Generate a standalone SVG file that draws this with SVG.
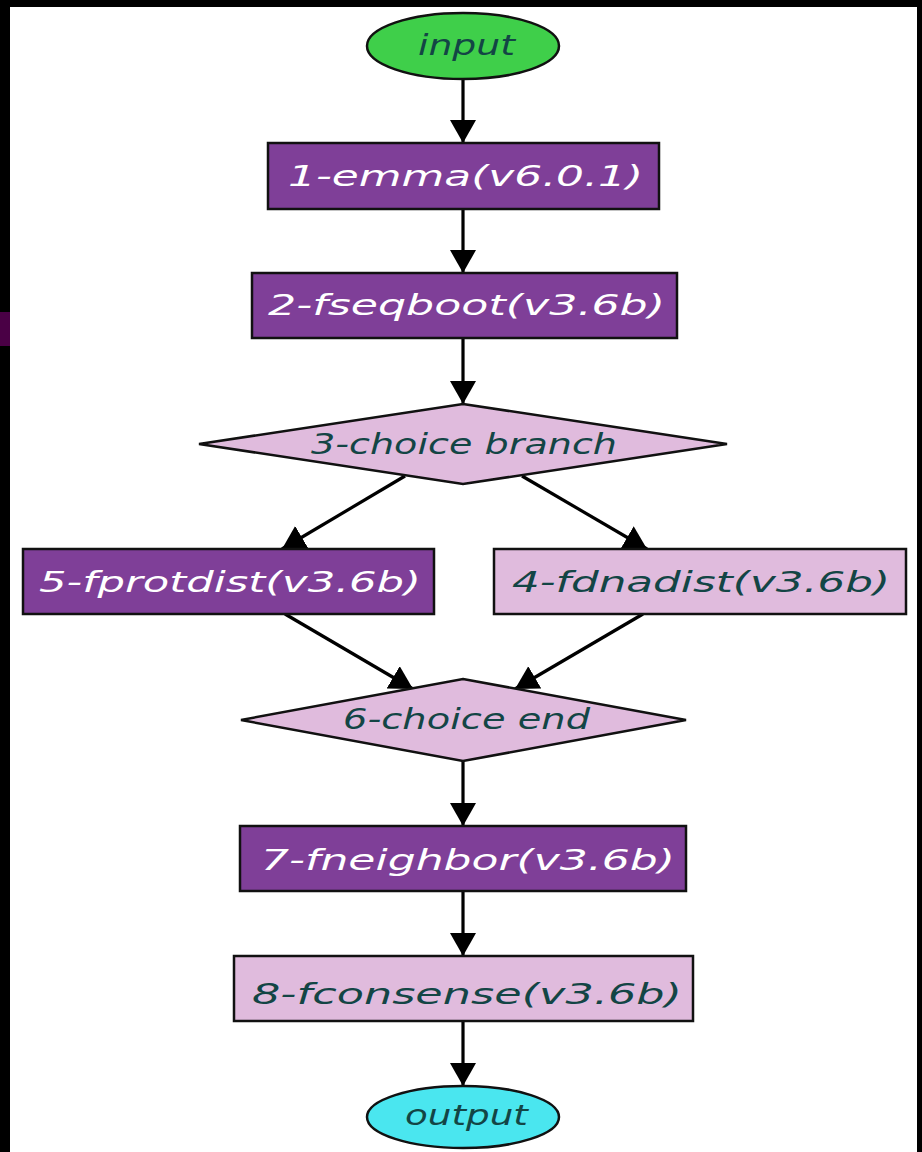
<svg xmlns="http://www.w3.org/2000/svg" width="922" height="1152" viewBox="0 0 922 1152">
<style>
.t{font-family:"DejaVu Sans",Verdana,sans-serif;font-style:italic;font-size:28px;}
.w{fill:#ffffff;}
.d{fill:#134545;}
.box{stroke:#111;stroke-width:2.5;}
.p{fill:#7f3f98;}
.k{fill:#e0bbdd;}
.e{stroke:#000;stroke-width:3.2;fill:none;marker-end:url(#ah);}
</style>
<defs>
<marker id="ah" markerUnits="userSpaceOnUse" markerWidth="28" markerHeight="28" refX="23" refY="13" orient="auto">
<path d="M0,0 L23,13 L0,26 Z" fill="#000"/>
</marker>
</defs>
<rect x="0" y="0" width="922" height="1152" fill="#ffffff"/>
<rect x="0" y="0" width="922" height="7" fill="#000"/>
<rect x="0" y="0" width="10" height="1152" fill="#000"/>
<rect x="917" y="0" width="5" height="1152" fill="#000"/>
<rect x="0" y="312" width="10" height="34" fill="#4a0045"/>
<g id="connectors">
<line class="e" x1="463" y1="79" x2="463" y2="143"/>
<line class="e" x1="463" y1="209" x2="463" y2="273"/>
<line class="e" x1="463" y1="338" x2="463" y2="404"/>
<line class="e" x1="405" y1="476" x2="282" y2="549"/>
<line class="e" x1="522" y1="476" x2="647" y2="549"/>
<line class="e" x1="285" y1="614" x2="413" y2="689"/>
<line class="e" x1="643" y1="614" x2="515" y2="689"/>
<line class="e" x1="463" y1="761" x2="463" y2="826"/>
<line class="e" x1="463" y1="891" x2="463" y2="956"/>
<line class="e" x1="463" y1="1021" x2="463" y2="1086"/>
</g>
<g id="input">
<ellipse cx="463" cy="46" rx="96" ry="33" fill="#3fcf4a" stroke="#111" stroke-width="2.5"/>
<text class="t d" x="418" y="55" textLength="97" lengthAdjust="spacingAndGlyphs">input</text>
</g>
<g id="n1">
<rect class="box p" x="268" y="143" width="391" height="66"/>
<text class="t w" x="288" y="186" textLength="355" lengthAdjust="spacingAndGlyphs">1-emma(v6.0.1)</text>
</g>
<g id="n2">
<rect class="box p" x="252" y="273" width="425" height="65"/>
<text class="t w" x="268" y="315" textLength="397" lengthAdjust="spacingAndGlyphs">2-fseqboot(v3.6b)</text>
</g>
<g id="n3">
<polygon class="box k" points="463,404 727,444 463,484 199,444"/>
<text class="t d" x="311" y="454" textLength="306" lengthAdjust="spacingAndGlyphs">3-choice branch</text>
</g>
<g id="n5">
<rect class="box p" x="23" y="549" width="411" height="65"/>
<text class="t w" x="39" y="592" textLength="382" lengthAdjust="spacingAndGlyphs">5-fprotdist(v3.6b)</text>
</g>
<g id="n4">
<rect class="box k" x="494" y="549" width="412" height="65"/>
<text class="t d" x="512" y="592" textLength="378" lengthAdjust="spacingAndGlyphs">4-fdnadist(v3.6b)</text>
</g>
<g id="n6">
<polygon class="box k" points="463,679 686,720 463,761 241,720"/>
<text class="t d" x="343" y="729" textLength="247" lengthAdjust="spacingAndGlyphs">6-choice end</text>
</g>
<g id="n7">
<rect class="box p" x="240" y="826" width="446" height="65"/>
<text class="t w" x="261" y="870" textLength="414" lengthAdjust="spacingAndGlyphs">7-fneighbor(v3.6b)</text>
</g>
<g id="n8">
<rect class="box k" x="234" y="956" width="459" height="65"/>
<text class="t d" x="252" y="1004" textLength="430" lengthAdjust="spacingAndGlyphs">8-fconsense(v3.6b)</text>
</g>
<g id="output">
<ellipse cx="463" cy="1117" rx="96" ry="31" fill="#4ae6ef" stroke="#111" stroke-width="2.5"/>
<text class="t d" x="405" y="1125" textLength="123" lengthAdjust="spacingAndGlyphs">output</text>
</g>
</svg>
